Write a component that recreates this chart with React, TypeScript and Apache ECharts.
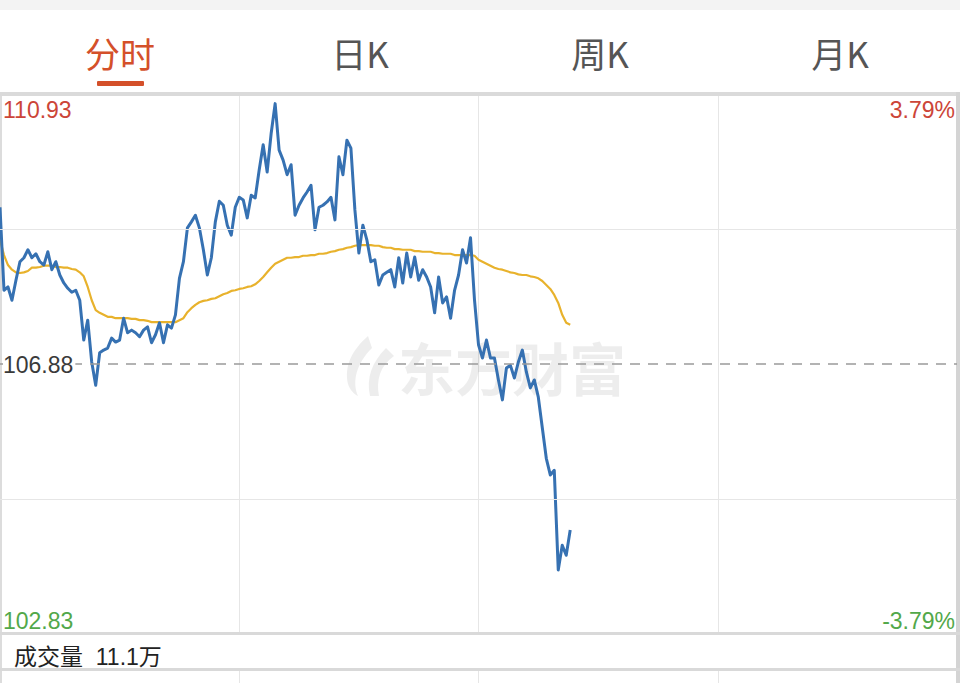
import React, { useEffect, useRef } from "react";
import * as echarts from "echarts";

const tabs = ["分时", "日K", "周K", "月K"];
const activeTab = 0;
const preClose = 106.88;
const priceMax = 110.93;
const priceMin = 102.83;
const pctUp = "3.79%";
const pctDown = "-3.79%";
const volumeLabel = "成交量  11.1万";
const watermark = "东方财富";
const minutesTotal = 240;
const minuteStep = 60;

const price = [
  109.24, 107.99, 108.04, 107.84, 108.14, 108.42, 108.48, 108.6, 108.48, 108.54,
  108.42, 108.37, 108.57, 108.3, 108.42, 108.22, 108.1, 108.02, 107.96, 107.99,
  107.84, 107.24, 107.54, 106.91, 106.56, 107.05, 107.09, 107.12, 107.27, 107.21,
  107.24, 107.57, 107.35, 107.39, 107.35, 107.29, 107.39, 107.44, 107.2, 107.32,
  107.5, 107.2, 107.47, 107.42, 107.62, 108.17, 108.42, 108.93, 109.02, 109.12,
  108.93, 108.6, 108.22, 108.48, 109.02, 109.33, 109.27, 108.97, 108.82, 109.24,
  109.39, 109.35, 109.08, 109.42, 109.38, 109.8, 110.18, 109.77, 110.35, 110.8,
  110.1, 109.95, 109.73, 109.88, 109.12, 109.27, 109.38, 109.47, 109.57, 108.9,
  109.24, 109.27, 109.32, 109.39, 109.05, 110.0, 109.73, 110.25, 110.13, 109.2,
  108.55, 108.97, 108.75, 108.42, 108.45, 108.07, 108.22, 108.26, 108.3, 108.04,
  108.48, 108.1, 108.55, 108.19, 108.49, 108.14, 108.3, 108.19, 108.04, 107.65,
  108.19, 107.8, 107.89, 107.57, 107.99, 108.22, 108.6, 108.4, 108.78, 107.84,
  107.17, 106.97, 107.24, 106.97, 106.97, 106.64, 106.34, 106.82, 106.86, 106.67,
  106.91, 107.09, 106.76, 106.52, 106.64, 106.38, 105.92, 105.46, 105.21, 105.28,
  103.78, 104.15, 104.0, 104.38,
];

const avgPrice = [
  108.75, 108.52, 108.37, 108.3, 108.26, 108.25, 108.26, 108.28, 108.33, 108.33,
  108.34, 108.36, 108.36, 108.36, 108.34, 108.34, 108.33, 108.33, 108.31, 108.3,
  108.26, 108.2, 108.04, 107.84, 107.69, 107.65, 107.62, 107.59, 107.59, 107.57,
  107.57, 107.57, 107.57, 107.56, 107.56, 107.54, 107.54, 107.53, 107.51, 107.51,
  107.51, 107.51, 107.51, 107.51, 107.51, 107.54, 107.57, 107.66, 107.72, 107.77,
  107.81, 107.83, 107.84, 107.86, 107.87, 107.9, 107.93, 107.95, 107.98, 107.99,
  108.01, 108.02, 108.04, 108.05, 108.08, 108.13, 108.19, 108.26, 108.33, 108.39,
  108.42, 108.45, 108.48, 108.48, 108.49, 108.49, 108.51, 108.51, 108.52, 108.52,
  108.54, 108.54, 108.55, 108.57, 108.58, 108.6, 108.61, 108.63, 108.64, 108.66,
  108.67, 108.67, 108.67, 108.67, 108.66, 108.66, 108.64, 108.63, 108.63, 108.61,
  108.61, 108.6, 108.6, 108.6, 108.58, 108.58, 108.57, 108.57, 108.57, 108.55,
  108.55, 108.54, 108.54, 108.54, 108.52, 108.52, 108.52, 108.52, 108.52, 108.51,
  108.45, 108.42, 108.39, 108.36, 108.33, 108.31, 108.3, 108.28, 108.26, 108.25,
  108.23, 108.22, 108.22, 108.2, 108.19, 108.17, 108.13, 108.07, 108.01, 107.92,
  107.8, 107.62, 107.5, 107.47,
];

const LATIN = "'Liberation Sans', Arial, 'Noto Sans CJK SC', sans-serif";
const CJK = "'Noto Sans CJK SC', 'Liberation Sans', sans-serif";
const RED = "#cc4538";
const GREEN = "#52a84a";

echarts.graphic.registerShape(
  "dfcfLogo",
  echarts.graphic.extendPath(
    "M30 0 C14 14 6 30 10 48 C12 54 16 58 20 60 C14 46 18 28 34 12 Z M48 12 C34 26 28 42 32 60 L41 60 C38 44 42 30 56 20 Z",
    {}
  )
);

export default function App() {
  const ref = useRef<HTMLDivElement>(null);

  useEffect(() => {
    const chart = echarts.init(ref.current!, null, { renderer: "svg" });
    const W = 960;

    chart.setOption({
      animation: false,
      backgroundColor: "#fff",
      grid: [
        { left: 0, right: 3, top: 95, bottom: 50 },
        { left: 0, right: 3, top: 671, bottom: 0 },
      ],
      xAxis: [
        {
          type: "value",
          gridIndex: 0,
          min: 0,
          max: minutesTotal,
          interval: minuteStep,
          axisLine: { show: false },
          axisTick: { show: false },
          axisLabel: { show: false },
          splitLine: { show: true, lineStyle: { color: "#e6e6e6", width: 1 } },
        },
        {
          type: "value",
          gridIndex: 1,
          min: 0,
          max: minutesTotal,
          interval: minuteStep,
          axisLine: { show: false },
          axisTick: { show: false },
          axisLabel: { show: false },
          splitLine: { show: true, lineStyle: { color: "#e6e6e6", width: 1 } },
        },
      ],
      yAxis: [
        {
          type: "value",
          gridIndex: 0,
          min: priceMin,
          max: priceMax,
          axisLine: { show: false },
          axisTick: { show: false },
          axisLabel: { show: false },
          splitLine: { show: false },
        },
        {
          type: "value",
          gridIndex: 1,
          min: 0,
          max: 1,
          axisLine: { show: false },
          axisTick: { show: false },
          axisLabel: { show: false },
          splitLine: { show: false },
        },
      ],
      series: [
        {
          type: "line",
          name: "均价",
          xAxisIndex: 0,
          yAxisIndex: 0,
          data: avgPrice.map((v, i) => [i, v]),
          showSymbol: false,
          symbol: "none",
          lineStyle: { color: "#e8b22c", width: 2.2 },
          itemStyle: { color: "#e8b22c" },
          z: 3,
        },
        {
          type: "line",
          name: "价格",
          xAxisIndex: 0,
          yAxisIndex: 0,
          data: price.map((v, i) => [i, v]),
          showSymbol: false,
          symbol: "none",
          lineStyle: { color: "#3671b2", width: 3, join: "round" },
          itemStyle: { color: "#3671b2" },
          z: 4,
          markLine: {
            silent: true,
            symbol: "none",
            label: { show: false },
            data: [
              { yAxis: (priceMax + preClose) / 2, lineStyle: { color: "#e6e6e6", width: 1, type: "solid" } },
              { yAxis: (priceMin + preClose) / 2, lineStyle: { color: "#e6e6e6", width: 1, type: "solid" } },
              { yAxis: preClose, lineStyle: { color: "#9a9a9a", width: 1.5, type: [10, 8] } },
            ],
          },
        },
      ],
    });

    const yTop = chart.convertToPixel({ yAxisIndex: 0 }, priceMax) as number;
    const yMid = chart.convertToPixel({ yAxisIndex: 0 }, preClose) as number;
    const yBot = chart.convertToPixel({ yAxisIndex: 0 }, priceMin) as number;

    const txt = (
      text: string,
      x: number,
      y: number,
      fill: string,
      fontSize: number,
      align: string,
      vAlign: string,
      fontFamily = LATIN,
      extra: any = {}
    ) => ({
      type: "text",
      x,
      y,
      z: 10,
      silent: true,
      style: {
        text,
        fill,
        fontSize,
        fontFamily,
        align,
        verticalAlign: vAlign,
        textAlign: align,
        textVerticalAlign: vAlign,
        ...extra,
      },
    });

    const graphics: any[] = [
      { type: "rect", shape: { x: 0, y: 0, width: W, height: 10 }, style: { fill: "#f3f3f3" }, z: 1, silent: true },
      { type: "rect", shape: { x: 0, y: 92, width: W, height: 4 }, style: { fill: "#dadada" }, z: 1, silent: true },
      { type: "rect", shape: { x: 0, y: 96, width: 2, height: 587 }, style: { fill: "#dcdcdc" }, z: 1, silent: true },
      { type: "rect", shape: { x: 956, y: 92, width: 4, height: 591 }, style: { fill: "#d4d4d4" }, z: 1, silent: true },
      { type: "rect", shape: { x: 0, y: yBot - 1, width: W, height: 3 }, style: { fill: "#d9d9d9" }, z: 1, silent: true },
      { type: "rect", shape: { x: 0, y: 668, width: W, height: 3 }, style: { fill: "#d9d9d9" }, z: 1, silent: true },
      {
        type: "dfcfLogo",
        x: 338,
        y: 336,
        z: 0,
        silent: true,
        style: { fill: "rgba(0,0,0,0.07)" },
      },
      {
        type: "text",
        x: 398,
        y: 366,
        z: 0,
        silent: true,
        style: {
          text: watermark,
          fill: "rgba(0,0,0,0.07)",
          fontSize: 57,
          fontWeight: "bold",
          fontFamily: CJK,
          align: "left",
          verticalAlign: "middle",
          textAlign: "left",
          textVerticalAlign: "middle",
        },
      },
    ];

    tabs.forEach((t, i) => {
      graphics.push(
        txt(t, ((i + 0.5) * W) / tabs.length, 52, i === activeTab ? "#d4502a" : "#555555", 35, "center", "middle", CJK)
      );
    });
    graphics.push({
      type: "rect",
      shape: { x: (0.5 * W) / tabs.length - 23, y: 81, width: 47, height: 5, r: 1 },
      style: { fill: "#d4502a" },
      z: 10,
      silent: true,
    });

    graphics.push(txt(priceMax.toFixed(2), 3, yTop + 3, RED, 23, "left", "top"));
    graphics.push(
      txt(preClose.toFixed(2), 3, yMid + 1, "#3a3a3a", 23, "left", "middle", LATIN, {
        backgroundColor: "#fff",
        padding: [0, 2, 0, 0],
      })
    );
    graphics.push(txt(priceMin.toFixed(2), 3, yBot - 1, GREEN, 23, "left", "bottom"));
    graphics.push(txt(pctUp, 955, yTop + 3, RED, 23, "right", "top"));
    graphics.push(txt(pctDown, 955, yBot - 1, GREEN, 23, "right", "bottom"));
    graphics.push(txt(volumeLabel, 14, 657, "#222222", 23, "left", "middle", LATIN));

    chart.setOption({ graphic: graphics });

    return () => chart.dispose();
  }, []);

  return (
    <div
      ref={ref}
      style={{ position: "absolute", left: 0, top: 0, width: 960, height: 683, background: "#fff" }}
    />
  );
}
